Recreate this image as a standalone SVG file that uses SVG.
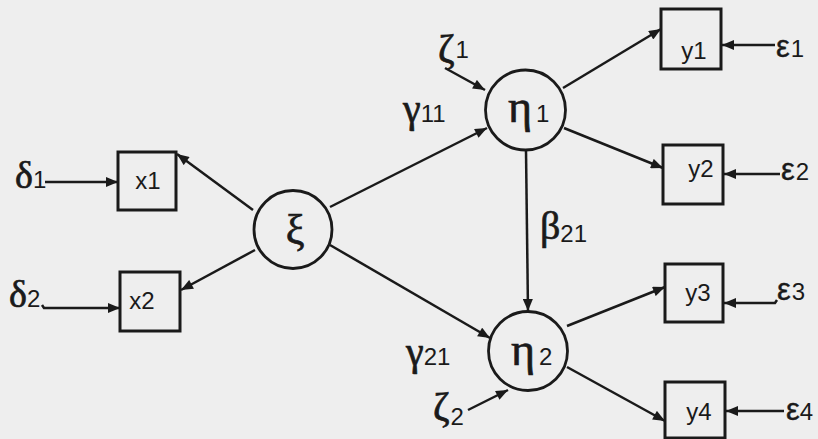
<svg xmlns="http://www.w3.org/2000/svg" width="818" height="439" viewBox="0 0 818 439">
<defs>
<marker id="ah" viewBox="0 0 12 10" refX="12" refY="5" markerWidth="13" markerHeight="10" markerUnits="userSpaceOnUse" orient="auto">
<path d="M0,0 L12,5 L0,10 Z" fill="#1a1a1a"/>
</marker>
<style>
.bg{fill:#eeeeee}
.box{fill:none;stroke:#1a1a1a;stroke-width:3}
.cir{fill:none;stroke:#1a1a1a;stroke-width:2.8}
.con line,.con path{stroke:#1a1a1a;stroke-width:2.5;fill:none;marker-end:url(#ah)}
.bl{font-family:"Liberation Sans",Arial,sans-serif;font-size:24px;fill:#1a1a1a}
.gk{font-family:"Liberation Serif","Times New Roman",serif;fill:#1a1a1a;stroke:#1a1a1a;stroke-width:0.7}
.ep{font-family:"Liberation Sans",Arial,sans-serif;fill:#1a1a1a;font-size:31px;stroke:#1a1a1a;stroke-width:0.4}
.sb{font-family:"Liberation Sans",Arial,sans-serif;font-size:24px;fill:#1a1a1a}
</style>
</defs>
<rect class="bg" x="0" y="0" width="818" height="439"/>
<g id="connectors" class="con">
<line x1="45" y1="182" x2="118" y2="182"/>
<path d="M42,305 L44,308 L120,308"/>
<line x1="253" y1="210" x2="177" y2="154"/>
<line x1="255" y1="250" x2="181" y2="290"/>
<line x1="330" y1="207" x2="487" y2="128"/>
<line x1="330" y1="245" x2="490" y2="338"/>
<line x1="445" y1="68" x2="485" y2="90"/>
<line x1="468" y1="410" x2="508" y2="390"/>
<line x1="526" y1="151" x2="528" y2="311"/>
<line x1="563" y1="88" x2="661" y2="29"/>
<line x1="564" y1="128" x2="663" y2="168"/>
<line x1="567" y1="326" x2="665" y2="287"/>
<line x1="567" y1="367" x2="665" y2="421"/>
<line x1="775" y1="45" x2="722" y2="45"/>
<line x1="780" y1="174" x2="724" y2="174"/>
<path d="M777,300 L775,303 L724,303"/>
<line x1="784" y1="411" x2="726" y2="411"/>
</g>
<g id="x1"><rect class="box" x="118" y="152" width="58" height="58"/><text class="bl" x="148" y="189" text-anchor="middle">x1</text></g>
<g id="x2"><rect class="box" x="120" y="272" width="60" height="59"/><text class="bl" x="142" y="309" text-anchor="middle">x2</text></g>
<g id="y1"><rect class="box" x="661" y="9" width="60" height="60"/><text class="bl" x="694" y="59" text-anchor="middle">y1</text></g>
<g id="y2"><rect class="box" x="663" y="145" width="60" height="59"/><text class="bl" x="701" y="177" text-anchor="middle">y2</text></g>
<g id="y3"><rect class="box" x="665" y="264" width="58" height="58"/><text class="bl" x="698" y="301" text-anchor="middle">y3</text></g>
<g id="y4"><rect class="box" x="665" y="382" width="60" height="56"/><text class="bl" x="699" y="420" text-anchor="middle">y4</text></g>
<g id="xi"><circle class="cir" cx="293" cy="229.5" r="39"/><text class="gk" x="295" y="244" font-size="42" text-anchor="middle">ξ</text></g>
<g id="eta1"><circle class="cir" cx="525.5" cy="110" r="40"/><text x="508" y="122"><tspan class="gk" font-size="46">η</tspan><tspan class="sb" dx="4">1</tspan></text></g>
<g id="eta2"><circle class="cir" cx="528" cy="351" r="39.5"/><text x="511" y="365"><tspan class="gk" font-size="46">η</tspan><tspan class="sb" dx="4">2</tspan></text></g>
<g id="labels">
<text x="15" y="188"><tspan class="gk" font-size="38">δ</tspan><tspan class="sb">1</tspan></text>
<text x="9" y="307"><tspan class="gk" font-size="38">δ</tspan><tspan class="sb">2</tspan></text>
<text x="438" y="62"><tspan class="gk" font-size="40">ζ</tspan><tspan class="sb" dx="1" dy="-4">1</tspan></text>
<text x="433" y="420"><tspan class="gk" font-size="40">ζ</tspan><tspan class="sb" dx="1" dy="5">2</tspan></text>
<text x="403" y="122"><tspan class="gk" font-size="40">γ</tspan><tspan class="sb" dx="0">11</tspan></text>
<text x="406" y="365"><tspan class="gk" font-size="40">γ</tspan><tspan class="sb" dx="0">21</tspan></text>
<text x="540" y="239"><tspan class="gk" font-size="40">β</tspan><tspan class="sb" dx="0" dy="3">21</tspan></text>
<text x="776" y="57"><tspan class="ep">ε</tspan><tspan class="sb" dx="1">1</tspan></text>
<text x="781" y="180"><tspan class="ep">ε</tspan><tspan class="sb" dx="1">2</tspan></text>
<text x="777" y="300"><tspan class="ep">ε</tspan><tspan class="sb" dx="1">3</tspan></text>
<text x="786" y="420"><tspan class="ep">ε</tspan><tspan class="sb" dx="0">4</tspan></text>
</g>
</svg>
